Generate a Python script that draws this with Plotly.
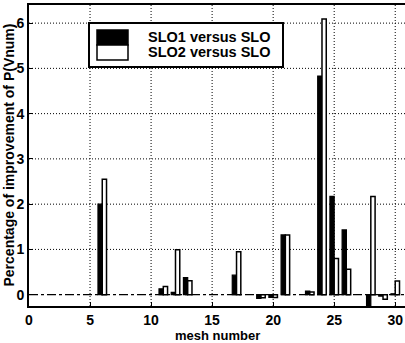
import plotly.graph_objects as go

mesh = [6, 11, 12, 13, 17, 19, 20, 21, 23, 24, 25, 26, 28, 29, 30]
slo1 = [2.0, 0.13, 0.05, 0.38, 0.43, -0.08, -0.06, 1.32, 0.08, 4.83, 2.17, 1.43, -0.25, -0.03, 0.02]
slo2 = [2.55, 0.18, 0.99, 0.31, 0.95, -0.07, -0.06, 1.32, 0.06, 6.09, 0.80, 0.56, 2.17, -0.10, 0.30]
series_names = ["SLO1 versus SLO", "SLO2 versus SLO"]
x_ticks = [0, 5, 10, 15, 20, 25, 30]
y_ticks = [0, 1, 2, 3, 4, 5, 6]

FONT = "Liberation Sans"

fig = go.Figure()
fig.add_trace(go.Bar(x=mesh, y=slo1, name=series_names[0],
                     marker=dict(color="black", line=dict(color="black", width=1.2))))
fig.add_trace(go.Bar(x=mesh, y=slo2, name=series_names[1],
                     marker=dict(color="white", line=dict(color="black", width=1.5))))

W, H = 405, 343
L, R, T, B = 29, 0, 5, 37
pw, ph = W - L - R, H - T - B

def px(x):
    return (x - L) / pw

def py(y):
    return (H - B - y) / ph

grid_line = dict(color="black", width=1, dash="1px,2px")
shapes = []
for xv in x_ticks[1:]:
    shapes.append(dict(type="line", xref="x", yref="paper", x0=xv, x1=xv, y0=0, y1=1,
                       line=grid_line, layer="below"))
for yv in y_ticks[1:]:
    shapes.append(dict(type="line", xref="paper", yref="y", x0=0, x1=1, y0=yv, y1=yv,
                       line=grid_line, layer="below"))
shapes += [
    dict(type="line", xref="paper", yref="y", x0=0, x1=1, y0=0, y1=0,
         line=dict(color="black", width=1.3, dash="dashdot"), layer="below"),
    dict(type="rect", xref="paper", yref="paper", x0=px(89), x1=px(283), y0=py(67), y1=py(23),
         fillcolor="white", line=dict(color="black", width=2)),
    dict(type="rect", xref="paper", yref="paper", x0=px(97), x1=px(128), y0=py(45), y1=py(30),
         fillcolor="black", line=dict(color="black", width=1.5)),
    dict(type="rect", xref="paper", yref="paper", x0=px(97), x1=px(128), y0=py(60), y1=py(45),
         fillcolor="white", line=dict(color="black", width=1.5)),
]

annotations = [
    dict(text=series_names[0], xref="paper", yref="paper", x=px(146), y=py(37),
         xanchor="left", yanchor="middle", showarrow=False,
         font=dict(family=FONT, size=14.5, color="black", weight="bold")),
    dict(text=series_names[1], xref="paper", yref="paper", x=px(146), y=py(52),
         xanchor="left", yanchor="middle", showarrow=False,
         font=dict(family=FONT, size=14.5, color="black", weight="bold")),
    dict(text="mesh number", xref="paper", yref="paper", x=0.5, y=0, yshift=-29,
         xanchor="center", yanchor="middle", showarrow=False,
         font=dict(family=FONT, size=13, color="black", weight="bold")),
    dict(text="Percentage of improvement of P(Vnum)", xref="paper", yref="paper",
         x=0, xshift=-21, y=0.5, textangle=-90, xanchor="center", yanchor="middle",
         showarrow=False, font=dict(family=FONT, size=14, color="black", weight="bold")),
]

fig.update_layout(
    width=W, height=H,
    margin=dict(l=L, r=R, t=T, b=B, pad=0),
    paper_bgcolor="white", plot_bgcolor="white",
    barmode="group", bargap=0.3, bargroupgap=0,
    showlegend=False,
    shapes=shapes, annotations=annotations,
    font=dict(family=FONT, size=14, color="black"),
)
axis_common = dict(ticks="inside", ticklen=4, tickcolor="black", showline=True,
                   linecolor="black", linewidth=2, mirror=True, showgrid=False,
                   zeroline=False, automargin=False,
                   tickfont=dict(family=FONT, size=14, color="black", weight="bold"))
fig.update_xaxes(range=[0, 30.8], tickvals=x_ticks, **axis_common)
fig.update_yaxes(range=[-0.25, 6.4], tickvals=y_ticks, **axis_common)

fig.write_html("out.html")
